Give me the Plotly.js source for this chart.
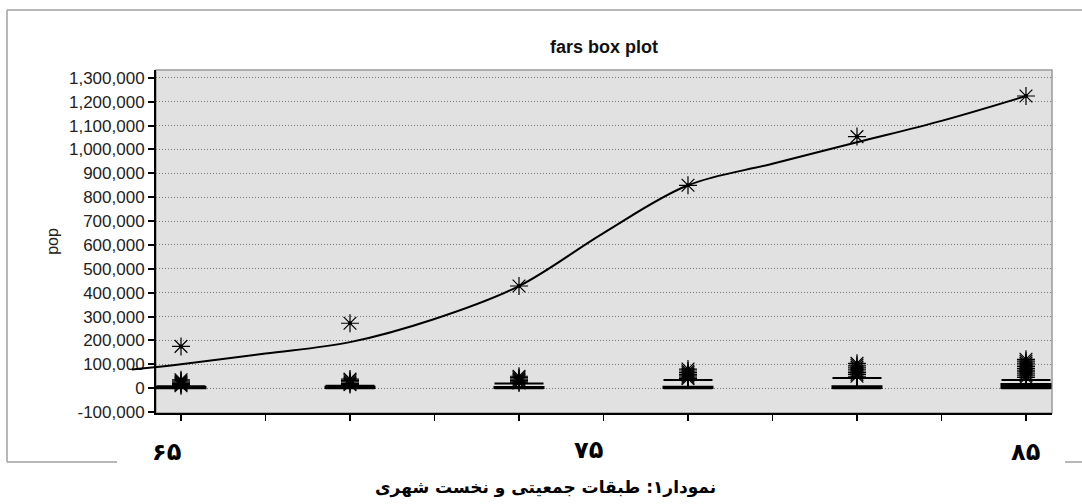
<!DOCTYPE html>
<html><head><meta charset="utf-8">
<script src="https://cdn.plot.ly/plotly-3.0.1.min.js"></script>
<style>html,body{margin:0;padding:0;background:#fff}#chart{width:1082px;height:504px}</style>
</head><body><div id="chart"></div>
<script>
// ---- data ----
const categories = [1, 2, 3, 4, 5, 6];
const lowerFence = [0, 0, 0, 0, 0, 0];
const q1 = [0, 1000, 1000, 1000, 1000, 1000];
const median = [2000, 3000, 3000, 3000, 3000, 3000];
const q3 = [5000, 6000, 5000, 6000, 8000, 17000];
const upperFence = [8000, 10000, 20000, 34000, 43000, 34000];

const outlierCat = [
  1, 1, 1, 1, 1, 1, 1,
  2, 2, 2, 2, 2, 2,
  3, 3, 3, 3, 3, 3, 3,
  4, 4, 4, 4, 4, 4, 4, 4,
  5, 5, 5, 5, 5, 5, 5, 5, 5,
  6, 6, 6, 6, 6, 6, 6, 6, 6, 6, 6, 6
];
const outlierPop = [
  175000, 35000, 30000, 25000, 20000, 15000, 10000,
  272000, 38000, 32000, 26000, 20000, 15000,
  428000, 50000, 44000, 38000, 32000, 27000, 22000,
  850000, 80000, 72000, 65000, 58000, 52000, 46000, 40000,
  1054000, 104000, 96000, 88000, 80000, 72000, 65000, 58000, 50000,
  1224000, 121000, 113000, 105000, 97000, 90000, 82000, 75000, 68000, 60000, 52000, 45000
];

const trendX = [0.71, 1.0, 1.5, 2.0, 2.5, 3.0, 3.5, 4.0, 4.5, 5.0, 5.5, 6.0];
const trendPop = [78000, 100000, 145000, 193000, 290000, 428000, 650000, 850000, 940000, 1030000, 1120000, 1224000];

const yTickVals = [-100000, 0, 100000, 200000, 300000, 400000, 500000, 600000, 700000, 800000, 900000, 1000000, 1100000, 1200000, 1300000];
const yTickText = ['-100,000', '0', '100,000', '200,000', '300,000', '400,000', '500,000', '600,000', '700,000', '800,000', '900,000', '1,000,000', '1,100,000', '1,200,000', '1,300,000'];
const xTickVals = [1, 1.5, 2, 2.5, 3, 3.5, 4, 4.5, 5, 5.5, 6];
const periodLabels = ['۶۵', '۷۵', '۸۵'];
const captionText = 'نمودار۱: طبقات جمعیتی و نخست شهری';

// ---- layout geometry ----
const W = 1082, H = 504;
const mL = 100, mR = 30, mT = 70, mB = 91;
const plotW = W - mL - mR, plotH = H - mT - mB;
const xLeftPx = 156;                       // left edge of the visible plot area
const xRange = [0.852, 6.154];
const yRange = [-104000, 1333000];
const xDomStart = (xLeftPx - mL) / plotW;
const unitPx = (W - mR - xLeftPx) / (xRange[1] - xRange[0]);
const x2Range = [xRange[0] - (xLeftPx - mL) / unitPx, xRange[1]];
const px = v => (v - mL) / plotW;
const py = v => (H - mB - v) / plotH;

const font = 'Liberation Sans, Arial, sans-serif';
const faFont = 'DejaVu Sans, Noto Sans, sans-serif';

const traces = [
  {
    type: 'box', x: categories,
    q1: q1, median: median, q3: q3, lowerfence: lowerFence, upperfence: upperFence,
    width: 0.29, whiskerwidth: 1, boxpoints: false,
    line: {color: '#000', width: 2}, fillcolor: '#000',
    hoverinfo: 'skip', showlegend: false
  },
  {
    type: 'scatter', mode: 'markers', x: outlierCat, y: outlierPop,
    marker: {symbol: 'asterisk-open', size: 15, color: '#000', line: {color: '#000', width: 1.2}},
    cliponaxis: false, showlegend: false, hoverinfo: 'skip'
  },
  {
    type: 'scatter', mode: 'markers', x: outlierCat, y: outlierPop,
    marker: {symbol: 'circle', size: 4, color: '#000'},
    showlegend: false, hoverinfo: 'skip'
  },
  {
    type: 'scatter', mode: 'lines', x: trendX, y: trendPop,
    xaxis: 'x2', yaxis: 'y2',
    line: {color: '#000', width: 2, shape: 'spline', smoothing: 1},
    showlegend: false, hoverinfo: 'skip'
  }
];

const gray = '#a0a0a0';
const frame = (x0, y0, x1, y1) => ({type: 'line', xref: 'paper', yref: 'paper',
  x0: px(x0), y0: py(y0), x1: px(x1), y1: py(y1), line: {color: gray, width: 1.5}, layer: 'below'});

const layout = {
  width: W, height: H,
  margin: {l: mL, r: mR, t: mT, b: mB, pad: 0},
  paper_bgcolor: '#fff', plot_bgcolor: 'rgba(0,0,0,0)',
  font: {family: font, size: 12, color: '#222'},
  showlegend: false,
  title: {text: '<b>fars box plot</b>', font: {family: font, size: 18, color: '#111'},
          xref: 'paper', x: px(604), xanchor: 'center', yref: 'container', y: 1 - 47 / H, yanchor: 'middle'},
  xaxis: {
    domain: [xDomStart, 1], range: xRange, anchor: 'y',
    showgrid: false, zeroline: false, showline: true, linecolor: '#000', linewidth: 2,
    tickmode: 'array', tickvals: xTickVals, showticklabels: false,
    ticks: 'outside', ticklen: 6, tickwidth: 1.5, tickcolor: '#000'
  },
  yaxis: {
    range: yRange, anchor: 'x',
    showgrid: true, gridcolor: '#7a7a7a', griddash: '1px,2px', gridwidth: 1,
    zeroline: false, showline: true, linecolor: '#000', linewidth: 2,
    tickmode: 'array', tickvals: yTickVals, ticktext: yTickText,
    ticks: 'outside', ticklen: 6, tickwidth: 2, tickcolor: '#000',
    tickfont: {family: font, size: 17, color: '#222'},
    title: {text: 'pop', font: {family: font, size: 16, color: '#222'}, standoff: 6}
  },
  xaxis2: {domain: [0, 1], range: x2Range, anchor: 'y2', visible: false},
  yaxis2: {domain: [0, 1], range: yRange, anchor: 'x2', visible: false},
  shapes: [
    {type: 'rect', xref: 'x domain', yref: 'y domain', x0: 0, x1: 1, y0: 0, y1: 1,
     fillcolor: '#e1e1e1', line: {color: '#9a9a9a', width: 1.5}, layer: 'below'},
    frame(7, 10, 7, 462),
    frame(7, 10, 1082, 10),
    frame(7, 462, 117, 462),
    frame(1065, 462, 1082, 462)
  ],
  annotations: [
    {text: '<b>' + periodLabels[0] + '</b>', xref: 'paper', yref: 'paper', x: px(166), y: py(452),
     showarrow: false, xanchor: 'center', yanchor: 'middle', font: {family: faFont, size: 24, color: '#000'}},
    {text: '<b>' + periodLabels[1] + '</b>', xref: 'paper', yref: 'paper', x: px(588), y: py(450),
     showarrow: false, xanchor: 'center', yanchor: 'middle', font: {family: faFont, size: 24, color: '#000'}},
    {text: '<b>' + periodLabels[2] + '</b>', xref: 'paper', yref: 'paper', x: px(1025), y: py(452),
     showarrow: false, xanchor: 'center', yanchor: 'middle', font: {family: faFont, size: 24, color: '#000'}},
    {text: '<b>' + captionText + '</b>', xref: 'paper', yref: 'paper', x: px(545), y: py(487),
     showarrow: false, xanchor: 'center', yanchor: 'middle', font: {family: faFont, size: 17, color: '#000'}}
  ]
};

Plotly.newPlot('chart', traces, layout, {staticPlot: true, displayModeBar: false});
</script>
</body></html>
